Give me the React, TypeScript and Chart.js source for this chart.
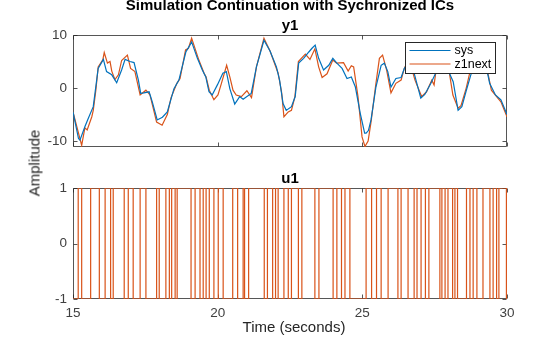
import React, { useEffect, useRef } from "react";
import { Chart, registerables } from "chart.js";

Chart.register(...registerables);

// ---------- data ----------
const timeTicks = [15, 20, 25, 30];
const y1Ticks = [-10, 0, 10];
const u1Ticks = [-1, 0, 1];

const sysT = [
  15.0, 15.19, 15.24, 15.41, 15.53, 15.7, 15.87, 16.05, 16.16, 16.34, 16.51, 16.68, 16.8, 16.97, 17.11,
  17.26, 17.34, 17.45, 17.63, 17.74, 17.91, 18.09, 18.26, 18.49, 18.66, 18.9, 19.01, 19.1, 19.3, 19.47,
  19.59, 19.7, 19.81, 19.99, 20.18, 20.3, 20.42, 20.59, 20.76, 20.88, 21.16, 21.34, 21.6, 21.81, 22.03,
  22.14, 22.26, 22.37, 22.55, 22.68, 22.8, 22.97, 23.15, 23.26, 23.37, 23.49, 23.66, 23.84, 23.98, 24.12,
  24.3, 24.47, 24.62, 24.76, 24.93, 25.08, 25.13, 25.21, 25.3, 25.47, 25.65, 25.76, 25.88, 25.99, 26.16,
  26.34, 26.45, 26.61, 26.79, 27.02, 27.16, 27.37, 27.55, 27.75, 28.01, 28.14, 28.31, 28.44, 28.59, 28.75,
  29.0, 29.34, 29.4, 29.6, 29.79, 30.0,
];
const sysY = [
  -4.5, -9.5, -9.8, -7.3, -5.7, -3.5, 3.7, 5.4, 3.1, 2.5, 1.0, 3.4, 5.4, 5.0, 4.8,
  1.5, -1.0, -0.9, -0.7, -2.6, -6.0, -5.5, -4.5, -0.1, 1.5, 6.8, 7.8, 8.7, 5.6, 3.4,
  2.1, -0.7, -1.3, 0.6, 2.8, 3.1, -0.1, -3.0, -1.6, -2.1, -1.0, 4.0, 9.0, 7.0, 4.0,
  1.5, -2.9, -4.2, -3.5, -1.6, 4.7, 5.6, 6.8, 7.5, 8.1, 5.6, 3.4, 4.3, 5.6, 4.7,
  3.7, 1.8, 2.1, 0.2, -4.8, -8.5, -8.5, -8.0, -6.0, 0.2, 4.3, 4.7, 3.1, 0.2, 1.8,
  2.0, 3.7, 5.0, 2.8, -1.9, -1.2, 0.9, 3.0, 5.5, 2.8, 1.2, -4.2, -3.5, -0.5, 2.5,
  6.5, 2.5, 0.9, -1.3, -2.2, -5.0,
];

const z1T = [
  15.0, 15.3, 15.41, 15.49, 15.65, 15.7, 15.79, 15.87, 16.03, 16.08, 16.19, 16.28, 16.34, 16.45, 16.57,
  16.68, 16.88, 16.99, 17.14, 17.32, 17.52, 17.66, 17.89, 18.08, 18.26, 18.39, 18.59, 18.7, 18.89, 18.99,
  19.1, 19.33, 19.53, 19.6, 19.71, 19.87, 20.01, 20.13, 20.31, 20.42, 20.53, 20.64, 20.82, 21.01, 21.17,
  21.34, 21.6, 21.81, 22.09, 22.21, 22.29, 22.44, 22.55, 22.67, 22.79, 23.03, 23.19, 23.36, 23.49, 23.61,
  23.78, 23.98, 24.11, 24.35, 24.51, 24.62, 24.7, 24.85, 24.99, 25.09, 25.2, 25.3, 25.47, 25.59, 25.7,
  25.84, 25.99, 26.16, 26.34, 26.45, 26.61, 26.82, 27.05, 27.22, 27.4, 27.48, 27.55, 27.75, 28.01, 28.13,
  28.31, 28.41, 28.59, 28.71, 29.0, 29.34, 29.46, 29.64, 29.79, 30.0,
];
const z1Y = [
  -4.5, -10.8, -7.5, -7.9, -5.4, -4.2, -0.4, 4.0, 5.3, 6.7, 4.7, 5.0, 3.2, 1.6, 2.5,
  5.2, 6.2, 3.7, 3.1, -1.3, -0.4, -1.3, -6.4, -7.0, -5.0, -1.8, 0.9, 1.8, 7.2, 7.5,
  9.4, 5.6, 2.8, 2.1, -0.4, -2.2, -1.3, 0.9, 4.3, 2.1, -0.4, -1.3, -1.6, -0.5, -1.8,
  4.0, 9.4, 7.0, 2.8, -0.8, -5.4, -4.5, -4.2, -1.6, 5.0, 6.4, 5.4, 7.4, 4.0, 2.0,
  2.7, 5.3, 4.7, 4.8, 3.2, 4.2, 4.0, -1.6, -9.2, -11.0, -10.0, -6.4, 0.9, 5.6, 6.2,
  3.4, -0.9, 0.9, 1.5, 3.7, 5.5, 1.5, -1.6, -0.7, 1.5, 0.6, 3.4, 6.0, 2.8, -1.3,
  -3.8, -3.3, 0.0, 2.8, 7.0, 2.8, -0.4, -1.6, -2.6, -5.4,
];

// input u1: value held from each time until the next one
const u1T = [
  15.0, 15.18, 15.3, 15.61, 15.91, 16.11, 16.3, 16.39, 16.77, 16.91, 17.08, 17.32, 17.52, 17.89, 17.98,
  18.21, 18.33, 18.41, 18.53, 18.6, 19.08, 19.22, 19.39, 19.5, 19.6, 19.71, 19.87, 20.02, 20.19, 20.52,
  20.69, 20.88, 20.93, 21.07, 21.61, 21.72, 21.9, 22.0, 22.09, 22.29, 22.44, 22.55, 22.79, 22.91, 23.36,
  23.5, 23.99, 24.12, 24.28, 24.4, 24.57, 25.13, 25.32, 25.49, 25.65, 25.89, 26.23, 26.34, 26.58, 26.79,
  26.89, 27.03, 27.18, 27.3, 27.68, 27.75, 27.86, 27.96, 28.12, 28.2, 28.29, 28.6, 28.72, 28.83, 28.96,
  29.17, 29.41, 29.52, 29.64, 29.72, 29.98, 30.0,
];
const u1V = [
  -1, 1, -1, 1, -1, 1, -1, 1, -1, 1, -1, 1, -1, 1, -1,
  1, -1, 1, -1, 1, -1, 1, -1, 1, -1, 1, -1, 1, -1, 1,
  -1, 1, -1, 1, -1, 1, -1, 1, -1, 1, -1, 1, -1, 1, -1,
  1, -1, 1, -1, 1, -1, 1, -1, 1, -1, 1, -1, 1, -1, 1,
  -1, 1, -1, 1, -1, 1, -1, 1, -1, 1, -1, 1, -1, 1, -1,
  1, -1, 1, -1, 1, -1, -1,
];

// ---------- style ----------
const FONT = "'Liberation Sans', Arial, Helvetica, sans-serif";
const AXIS = "#262626";
const TEXT = "#404040";
const FRAME = "rgba(38,38,38,0.78)";
const BLUE = "#0072BD";
const ORANGE = "#D95319";

const framePlugin = {
  id: "matlabFrame",
  beforeDatasetsDraw(chart: any, _args: any, opts: any) {
    const { ctx, chartArea: a, scales } = chart;
    const L = Math.round(a.left) + 0.5;
    const R = Math.round(a.right) - 0.5;
    const T = Math.round(a.top) + 0.5;
    const B = Math.round(a.bottom) - 0.5;
    ctx.save();
    ctx.strokeStyle = FRAME;
    ctx.lineWidth = 1;
    ctx.beginPath();
    ctx.rect(L, T, R - L, B - T);
    const tl = 4;
    for (const v of opts.xTicks || []) {
      const px = Math.round(scales.x.getPixelForValue(v)) + 0.5;
      ctx.moveTo(px, B);
      ctx.lineTo(px, B - tl);
      ctx.moveTo(px, T);
      ctx.lineTo(px, T + tl);
    }
    for (const v of opts.yTicks || []) {
      const py = Math.round(scales.y.getPixelForValue(v)) + 0.5;
      ctx.moveTo(L, py);
      ctx.lineTo(L + tl, py);
      ctx.moveTo(R, py);
      ctx.lineTo(R - tl, py);
    }
    ctx.stroke();
    ctx.restore();
  },
};

const boxLegendPlugin = {
  id: "boxLegend",
  afterDatasetsDraw(chart: any, _args: any, opts: any) {
    if (!opts || !opts.show) return;
    const { ctx, chartArea: a } = chart;
    const w = 90;
    const h = 31;
    const x0 = Math.round(a.right - 12 - w) + 0.5;
    const y0 = Math.round(a.top + 7) + 0.5;
    ctx.save();
    ctx.fillStyle = "#ffffff";
    ctx.fillRect(x0, y0, w, h);
    ctx.strokeStyle = AXIS;
    ctx.lineWidth = 1;
    ctx.strokeRect(x0, y0, w, h);
    ctx.font = `12.5px ${FONT}`;
    ctx.textBaseline = "middle";
    ctx.textAlign = "left";
    chart.data.datasets.forEach((ds: any, i: number) => {
      const yy = y0 + 8 + i * 13.5;
      ctx.strokeStyle = ds.borderColor;
      ctx.lineWidth = 1.2;
      ctx.beginPath();
      ctx.moveTo(x0 + 4, yy);
      ctx.lineTo(x0 + 45, yy);
      ctx.stroke();
      ctx.fillStyle = "#000000";
      ctx.fillText(ds.label, x0 + 49, yy + 0.5);
    });
    ctx.restore();
  },
};

const toXY = (ts: number[], vs: number[]) => ts.map((t, i) => ({ x: t, y: vs[i] }));

function yAxis(min: number, max: number, ticks: number[]) {
  return {
    type: "linear",
    min,
    max,
    afterBuildTicks: (s: any) => {
      s.ticks = ticks.map((v) => ({ value: v }));
    },
    afterFit: (s: any) => {
      s.width = 73;
    },
    grid: { display: false, drawTicks: false },
    border: { display: false },
    ticks: { padding: 6, color: TEXT, font: { family: FONT, size: 13.5 } },
  };
}

export default function App() {
  const c1 = useRef<HTMLCanvasElement>(null);
  const c2 = useRef<HTMLCanvasElement>(null);

  useEffect(() => {
    const common = {
      responsive: false,
      animation: false,
      devicePixelRatio: 1,
      events: [],
    };
    const lineDs = (label: string, data: any, color: string, extra: any = {}) => ({
      label,
      data,
      borderColor: color,
      backgroundColor: color,
      borderWidth: 1.2,
      pointRadius: 0,
      tension: 0,
      fill: false,
      ...extra,
    });

    const chart1 = new Chart(c1.current as HTMLCanvasElement, {
      type: "line",
      data: {
        datasets: [
          lineDs("sys", toXY(sysT, sysY), BLUE),
          lineDs("z1next", toXY(z1T, z1Y), ORANGE),
        ],
      },
      options: {
        ...common,
        layout: { padding: { left: 0, top: 35, right: 53, bottom: 190 } },
        plugins: {
          legend: { display: false },
          tooltip: { enabled: false },
          matlabFrame: { xTicks: timeTicks, yTicks: y1Ticks },
          boxLegend: { show: true },
        } as any,
        scales: {
          x: { type: "linear", min: 15, max: 30, display: false },
          y: yAxis(-11.1, 10, y1Ticks) as any,
        },
      },
      plugins: [framePlugin, boxLegendPlugin],
    } as any);

    const chart2 = new Chart(c2.current as HTMLCanvasElement, {
      type: "line",
      data: {
        datasets: [
          lineDs("z1next", toXY(u1T, u1V), ORANGE, { stepped: "before" }),
        ],
      },
      options: {
        ...common,
        layout: { padding: { left: 0, top: 188, right: 53, bottom: 16 } },
        plugins: {
          legend: { display: false },
          tooltip: { enabled: false },
          matlabFrame: { xTicks: timeTicks, yTicks: u1Ticks },
          boxLegend: { show: false },
        } as any,
        scales: {
          x: {
            type: "linear",
            min: 15,
            max: 30,
            afterBuildTicks: (s: any) => {
              s.ticks = timeTicks.map((v) => ({ value: v }));
            },
            afterFit: (s: any) => {
              s.height = 22;
            },
            grid: { display: false, drawTicks: false },
            border: { display: false },
            ticks: {
              padding: 6,
              color: TEXT,
              maxRotation: 0,
              font: { family: FONT, size: 13.5 },
            },
          },
          y: yAxis(-1, 1, u1Ticks) as any,
        },
      },
      plugins: [framePlugin, boxLegendPlugin],
    } as any);

    return () => {
      chart1.destroy();
      chart2.destroy();
    };
  }, []);

  const abs: React.CSSProperties = { position: "absolute", whiteSpace: "nowrap" };

  return (
    <div
      style={{
        position: "fixed",
        left: 0,
        top: 0,
        width: 560,
        height: 337,
        overflow: "hidden",
        background: "#ffffff",
        fontFamily: FONT,
      }}
    >
      <canvas ref={c1} width={560} height={337} style={{ position: "absolute", left: 0, top: 0 }} />
      <canvas ref={c2} width={560} height={337} style={{ position: "absolute", left: 0, top: 0 }} />
      <div
        style={{
          ...abs,
          left: 40,
          width: 500,
          top: -3,
          textAlign: "center",
          fontWeight: "bold",
          fontSize: 15,
          lineHeight: "15px",
          color: "#000",
        }}
      >
        Simulation Continuation with Sychronized ICs
      </div>
      <div
        style={{
          ...abs,
          left: 240,
          width: 100,
          top: 16.5,
          textAlign: "center",
          fontWeight: "bold",
          fontSize: 15,
          lineHeight: "15px",
          color: "#000",
        }}
      >
        y1
      </div>
      <div
        style={{
          ...abs,
          left: 240,
          width: 100,
          top: 169.5,
          textAlign: "center",
          fontWeight: "bold",
          fontSize: 15,
          lineHeight: "15px",
          color: "#000",
        }}
      >
        u1
      </div>
      <div
        style={{
          ...abs,
          left: 33.5,
          top: 162.5,
          fontSize: 15,
          lineHeight: "15px",
          color: AXIS,
          transform: "translate(-50%, -50%) rotate(-90deg)",
        }}
      >
        Amplitude
      </div>
      <div
        style={{
          ...abs,
          left: 194,
          width: 200,
          top: 318.5,
          textAlign: "center",
          fontSize: 15,
          lineHeight: "15px",
          color: AXIS,
        }}
      >
        Time (seconds)
      </div>
    </div>
  );
}
